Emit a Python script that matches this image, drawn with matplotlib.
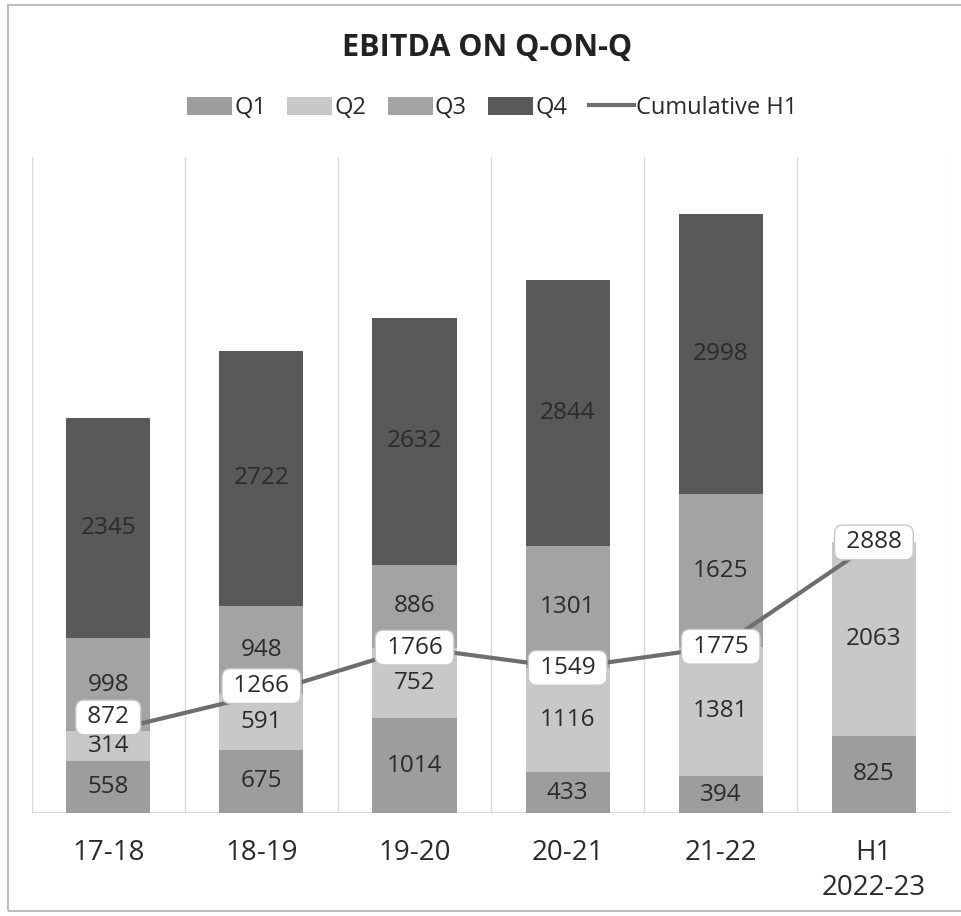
import numpy as np
import matplotlib.pyplot as plt
from matplotlib.patches import Rectangle

plt.rcParams['font.family'] = ['Open Sans', 'DejaVu Sans']

years = ['17-18', '18-19', '19-20', '20-21', '21-22', 'H1\n2022-23']
q1 = [558, 675, 1014, 433, 394, 825]
q2 = [314, 591, 752, 1116, 1381, 2063]
q3 = [998, 948, 886, 1301, 1625, 0]
q4 = [2345, 2722, 2632, 2844, 2998, 0]
cum_h1 = [872, 1266, 1766, 1549, 1775, 2888]

series = [('Q1', q1, '#9d9d9d'), ('Q2', q2, '#c8c8c8'),
          ('Q3', q3, '#a3a3a3'), ('Q4', q4, '#595959')]

fig = plt.figure(figsize=(9.61, 9.16), dpi=100)
ax = fig.add_axes([0.033, 0.1124, 0.956, 0.716])

x = np.arange(len(years))
bottom = np.zeros(len(years))
w = 0.55
for name, vals, col in series:
    vals = np.array(vals, dtype=float)
    ax.bar(x, vals, w, bottom=bottom, color=col, label=name, zorder=2)
    for xi, b, v in zip(x, bottom, vals):
        if v > 0:
            ax.text(xi, b + v / 2, str(int(v)), ha='center', va='center',
                    fontsize=17.5, color='#2b2b2b', zorder=3)
    bottom += vals

ax.plot(x, cum_h1, color='#6e6e6e', lw=3, label='Cumulative H1', zorder=4)
# first two labels were dragged up a bit in the original
nudge = [10, 6, 0, 0, 0, 0]
for xi, v, dy in zip(x, cum_h1, nudge):
    ax.annotate(' %d ' % v, (xi, v), xytext=(0, dy), textcoords='offset points',
                ha='center', va='center', fontsize=17.5, color='#2b2b2b', zorder=5,
                bbox=dict(boxstyle='round,pad=0.22,rounding_size=0.35', fc='white', ec='#c8c8c8', lw=1))

ax.set_xlim(-0.5, len(years) - 0.5)
ax.set_ylim(0, 7000)
for b in np.arange(-0.5, len(years) + 0.5, 1):
    ax.axvline(b, color='#d9d9d9', lw=1, zorder=1)
ax.axhline(0, color='#cfcfcf', lw=1.2, zorder=1)

for s in ax.spines.values():
    s.set_visible(False)
ax.set_yticks([])
ax.set_xticks(x)
ax.set_xticklabels(years, fontsize=20, color='#2b2b2b', linespacing=1.3)
ax.tick_params(axis='x', length=0, pad=19)

fig.text(0.507, 0.948, 'EBITDA ON Q-ON-Q', ha='center', va='center',
         fontsize=22, fontweight='bold', color='#222222')

h, l = ax.get_legend_handles_labels()
order = [1, 2, 3, 4, 0]
fig.legend([h[i] for i in order], [l[i] for i in order], loc='center',
           bbox_to_anchor=(0.512, 0.882), ncol=5, frameon=False, fontsize=17,
           handlelength=1.9, handleheight=0.8, handletextpad=0.1, columnspacing=0.9,
           labelcolor='#2b2b2b')

fig.patches.append(Rectangle((0.008, 0.005), 1.1, 0.99, transform=fig.transFigure,
                             fill=False, ec='#bdbdbd', lw=1.5))

fig.savefig('out.png', dpi=100)
